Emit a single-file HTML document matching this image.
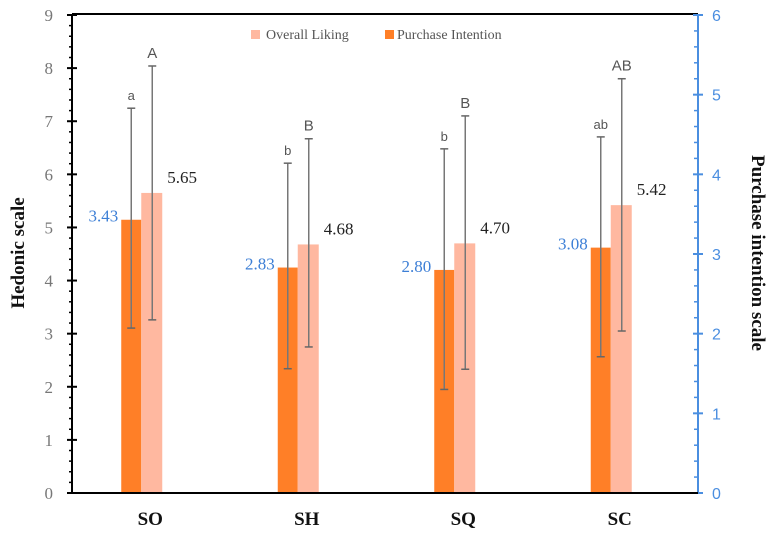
<!DOCTYPE html>
<html><head><meta charset="utf-8"><style>
body{margin:0;background:#fff;}
svg{display:block;}
</style></head><body>
<svg id="chart" width="772" height="539" viewBox="0 0 772 539" xmlns="http://www.w3.org/2000/svg"></svg>
<script>
const categories = ["SO","SH","SQ","SC"];
const liking = [5.65,4.68,4.70,5.42];
const likingErrLow = [3.26,2.75,2.33,3.05];
const likingErrHigh = [8.04,6.67,7.10,7.80];
const likingLetters = ["A","B","B","AB"];
const purchase = [3.43,2.83,2.80,3.08];
const purchaseErrLow = [2.07,1.56,1.30,1.71];
const purchaseErrHigh = [4.83,4.14,4.32,4.47];
const purchaseLetters = ["a","b","b","ab"];
const leftTicks = [0,1,2,3,4,5,6,7,8,9];
const rightTicks = [0,1,2,3,4,5,6];

const svg = document.getElementById('chart');
const NS = 'http://www.w3.org/2000/svg';
const X0 = 72, X1 = 698, Y0 = 493, YT = 15;
const yL = v => Y0 - v * (Y0 - YT) / 9;
const yR = v => Y0 - v * (Y0 - YT) / 6;
const xC = i => X0 + (i + 0.5) * (X1 - X0) / categories.length;
const BW = 20;
function mk(tag, attrs, text){
  const e = document.createElementNS(NS, tag);
  for (const k in attrs) e.setAttribute(k, attrs[k]);
  if (text !== undefined) e.textContent = text;
  svg.appendChild(e);
  return e;
}
let e;
e = mk('line',{x1:X0,y1:YT-1,x2:X1,y2:YT-1,stroke:'#000','stroke-width':2});
 
e = mk('line',{x1:X0,y1:YT-1,x2:X0,y2:Y0,stroke:'#000','stroke-width':2});
 
e = mk('line',{x1:X1,y1:YT-1,x2:X1,y2:Y0,stroke:'#4a8ee0','stroke-width':2});
 
for (let v = 0; v <= 9.001; v += 0.2) {
  const y = yL(v);
  const major = Math.abs(v - Math.round(v)) < 0.01;
  mk('line',{x1:major?X0-5:X0-3,y1:y,x2:major?X0+5:X0,y2:y,stroke:'#000','stroke-width':major?2:1.5});
}
leftTicks.forEach(v => {
  e = mk('text',{x:X0-19,y:yL(v)+6,'text-anchor':'end','font-family':'Liberation Serif, serif','font-size':17,fill:'#777'}, String(v));
   
});
for (let v = 0; v <= 6.001; v += 0.2) {
  const y = yR(v);
  const major = Math.abs(v - Math.round(v)) < 0.01;
  mk('line',{x1:major?X1-5:X1-4,y1:y,x2:major?X1+5:X1,y2:y,stroke:'#4a8ee0','stroke-width':major?2:1.5});
}
rightTicks.forEach(v => {
  e = mk('text',{x:X1+14,y:yR(v)+6,'font-family':'Liberation Sans, sans-serif','font-size':16,fill:'#4a8ee0'}, String(v));
   
});
categories.forEach((c, i) => {
  const cx = xC(i) - 9;
  const ox = cx - BW, px = cx;
  e = mk('rect',{x:ox,y:yR(purchase[i]),width:BW,height:Y0-yR(purchase[i]),fill:'#ff7f27'});
   
  e = mk('rect',{x:px,y:yL(liking[i]),width:BW+1,height:Y0-yL(liking[i]),fill:'#ffb8a0'});
   
  const ex1 = ox + BW/2, ex2 = px + BW/2 + 1;
  [[ex1, yR(purchaseErrLow[i]), yR(purchaseErrHigh[i]), purchaseLetters[i], 'purchase'],
   [ex2, yL(likingErrLow[i]), yL(likingErrHigh[i]), likingLetters[i], 'liking']].forEach(([x, yb, yt, lt, nm]) => {
    e = mk('line',{x1:x,y1:yb,x2:x,y2:yt,stroke:'#777','stroke-width':1.5});
     
    mk('line',{x1:x-4,y1:yb,x2:x+4,y2:yb,stroke:'#666','stroke-width':1.5});
    mk('line',{x1:x-4,y1:yt,x2:x+4,y2:yt,stroke:'#666','stroke-width':1.5});
    e = mk('text',{x:x,y:yt-8,'text-anchor':'middle','font-family':'Liberation Sans, sans-serif','font-size':nm==='liking'?15:13,fill:'#555'}, lt);
     
  });
  e = mk('text',{x:ox-3,y:yR(purchase[i])+2,'text-anchor':'end','font-family':'Liberation Serif, serif','font-size':17,fill:'#3d7fd6'}, purchase[i].toFixed(2));
   
  e = mk('text',{x:px+BW+6,y:yL(liking[i])-10,'font-family':'Liberation Serif, serif','font-size':17,fill:'#222'}, liking[i].toFixed(2));
   
  e = mk('text',{x:xC(i),y:525,'text-anchor':'middle','font-family':'Liberation Serif, serif','font-size':19,'font-weight':'bold',fill:'#111'}, c);
   
});
e = mk('line',{x1:X0-5,y1:Y0,x2:X1,y2:Y0,stroke:'#000','stroke-width':2});
 
e = mk('rect',{x:251,y:30,width:9,height:9,fill:'#ffb8a0'});
 
e = mk('text',{x:266,y:39,'font-family':'Liberation Serif, serif','font-size':14,fill:'#555'}, 'Overall Liking');
 
e = mk('rect',{x:385,y:30,width:9,height:9,fill:'#ff7f27'});
 
e = mk('text',{x:397,y:39,'font-family':'Liberation Serif, serif','font-size':14,fill:'#555'}, 'Purchase Intention');
 
e = mk('text',{x:0,y:0,transform:'translate(24,253) rotate(-90)','text-anchor':'middle','font-family':'Liberation Serif, serif','font-size':19,'font-weight':'bold',fill:'#111'}, 'Hedonic scale');
 
e = mk('text',{x:0,y:0,transform:'translate(752,253) rotate(90)','text-anchor':'middle','font-family':'Liberation Serif, serif','font-size':19,'font-weight':'bold',fill:'#111'}, 'Purchase intention scale');
 
</script>
</body></html>
